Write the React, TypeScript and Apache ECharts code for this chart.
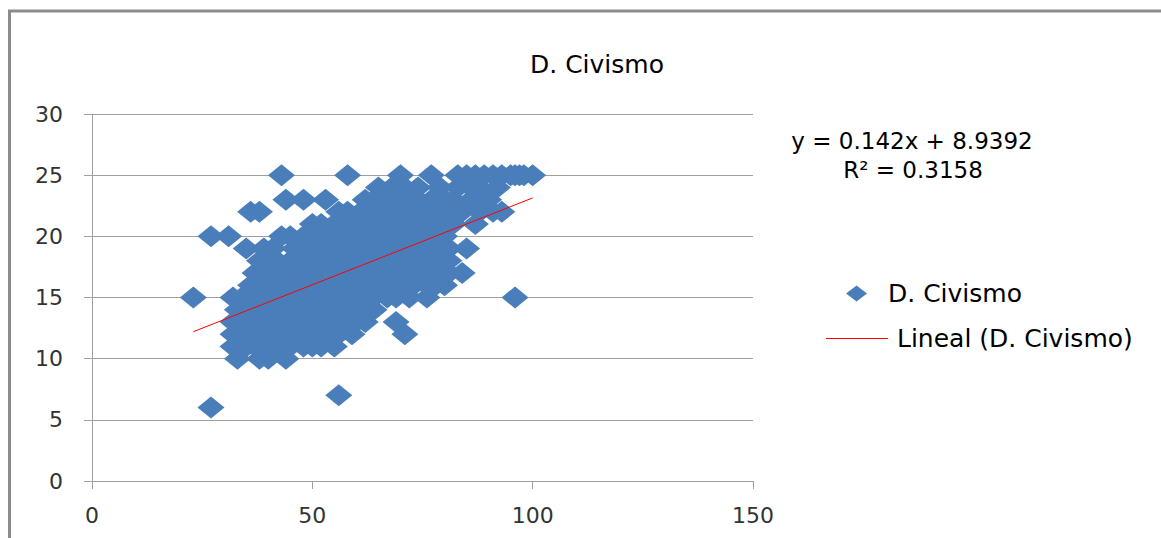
import React, { useEffect, useRef } from "react";
import * as echarts from "echarts";

const chartTitle = "D. Civismo";
const seriesName = "D. Civismo";
const trendName = "Lineal (D. Civismo)";
const trendSlope = 0.142;
const trendIntercept = 8.9392;
const equationText = "y = 0.142x + 8.9392";
const r2Text = "R² = 0.3158";

const xAxisMin = 0;
const xAxisMax = 150;
const xAxisStep = 50;
const yAxisMin = 0;
const yAxisMax = 30;
const yAxisStep = 5;

// Scores grouped by the D. Civismo value (y); each row lists the x values.
const rowY = [6, 7, 10, 11, 12, 13, 14, 15, 16, 17, 18, 19, 20, 21, 22, 23, 24, 25];
const rowX: number[][] = [
  [27],
  [56],
  [33, 38, 40, 44],
  [32, 35, 37, 40, 42, 45, 48, 50, 52, 55],
  [32, 34, 37, 39, 42, 44, 47, 49, 51, 54, 56, 59, 71],
  [32, 35, 37, 40, 42, 45, 47, 50, 52, 55, 57, 60, 62, 69],
  [33, 35, 38, 40, 43, 45, 48, 50, 53, 55, 58, 60, 62, 64],
  [23, 32, 34, 37, 39, 42, 44, 47, 49, 52, 54, 57, 59, 62, 64, 67, 69, 72, 76, 96],
  [36, 38, 41, 43, 46, 48, 51, 53, 56, 58, 61, 63, 66, 68, 71, 73, 76, 78, 80],
  [37, 39, 42, 44, 47, 49, 52, 54, 57, 59, 62, 64, 67, 69, 72, 74, 77, 79, 81, 84],
  [38, 40, 42, 45, 47, 50, 52, 55, 57, 60, 62, 65, 67, 70, 72, 75, 77, 79, 81],
  [35, 39, 41, 46, 48, 51, 53, 56, 58, 61, 63, 66, 68, 71, 73, 76, 78, 81, 85],
  [27, 31, 43, 45, 48, 50, 53, 55, 58, 60, 63, 65, 68, 70, 73, 75, 78, 80],
  [50, 52, 55, 57, 60, 62, 65, 67, 70, 72, 75, 77, 80, 82, 87],
  [36, 38, 56, 58, 61, 63, 66, 68, 71, 73, 76, 78, 81, 84, 88, 91, 93],
  [44, 48, 53, 62, 64, 67, 69, 72, 74, 77, 80, 82, 86, 90],
  [65, 68, 71, 74, 79, 83, 86, 88, 92],
  [43, 58, 70, 77, 83, 85, 87, 89, 91, 93, 95, 96, 97, 98, 100],
];

const FONT = '"DejaVu Sans", "Liberation Sans", sans-serif';

export default function App() {
  const ref = useRef<HTMLDivElement>(null);

  useEffect(() => {
    if (!ref.current) return;
    const chart = echarts.init(ref.current, null, { renderer: "svg" });

    const points: number[][] = [];
    rowY.forEach((y, i) => rowX[i].forEach((x) => points.push([x, y])));
    const xs = points.map((p) => p[0]);
    const xLo = Math.min(...xs);
    const xHi = Math.max(...xs);
    const trend = [
      [xLo, trendSlope * xLo + trendIntercept],
      [xHi, trendSlope * xHi + trendIntercept],
    ];

    chart.setOption({
      animation: false,
      backgroundColor: "#ffffff",
      title: {
        text: chartTitle,
        left: 525,
        top: 47,
        textStyle: { fontFamily: FONT, fontSize: 25, fontWeight: "normal", color: "#000000" },
      },
      grid: { left: 92, right: 408, top: 114, bottom: 57, containLabel: false },
      xAxis: {
        type: "value",
        min: xAxisMin,
        max: xAxisMax,
        interval: xAxisStep,
        axisLine: { show: true, lineStyle: { color: "#a0a0a0", width: 1 } },
        axisTick: { show: true, length: 8, lineStyle: { color: "#a0a0a0" } },
        splitLine: { show: false },
        axisLabel: { fontFamily: FONT, fontSize: 22, color: "#333333", margin: 23 },
      },
      yAxis: {
        type: "value",
        min: yAxisMin,
        max: yAxisMax,
        interval: yAxisStep,
        axisLine: { show: true, lineStyle: { color: "#a0a0a0", width: 1 } },
        axisTick: { show: true, length: 8, lineStyle: { color: "#a0a0a0" } },
        splitLine: { show: true, lineStyle: { color: "#a0a0a0", width: 1 } },
        axisLabel: { fontFamily: FONT, fontSize: 22, color: "#333333", margin: 29 },
      },
      legend: [
        {
          data: [{ name: seriesName, icon: "diamond" }],
          left: 846,
          top: 281,
          padding: 0,
          itemWidth: 21,
          itemHeight: 16,
          itemStyle: { color: "#4a7ebb", opacity: 1 },
          textStyle: { fontFamily: FONT, fontSize: 25, color: "#000000", padding: [0, 0, 0, 16] },
          selectedMode: false,
        },
        {
          data: [{ name: trendName, icon: "rect" }],
          left: 826,
          top: 326,
          padding: 0,
          itemWidth: 62,
          itemHeight: 1,
          itemStyle: { color: "#ff0000" },
          textStyle: { fontFamily: FONT, fontSize: 25, color: "#000000", padding: [0, 0, 0, 4] },
          selectedMode: false,
        },
      ],
      graphic: [
        {
          type: "rect",
          silent: true,
          shape: { x: 9.5, y: 11, width: 1400, height: 800 },
          style: { fill: "none", stroke: "#8c8c8c", lineWidth: 3 },
        },
        {
          type: "text",
          x: 912,
          y: 141,
          style: {
            text: equationText,
            font: `23px ${FONT}`,
            fill: "#000000",
            align: "center",
            verticalAlign: "middle",
          },
        },
        {
          type: "text",
          x: 913,
          y: 170,
          style: {
            text: r2Text,
            font: `23px ${FONT}`,
            fill: "#000000",
            align: "center",
            verticalAlign: "middle",
          },
        },
      ],
      series: [
        {
          name: seriesName,
          type: "scatter",
          symbol: "diamond",
          symbolSize: [27, 22],
          itemStyle: { color: "#4a7ebb", opacity: 1 },
          data: points,
          z: 2,
        },
        {
          name: trendName,
          type: "line",
          symbol: "none",
          showSymbol: false,
          lineStyle: { color: "#ff0000", width: 1 },
          data: trend,
          z: 3,
        },
      ],
    });

    return () => chart.dispose();
  }, []);

  return (
    <div
      ref={ref}
      style={{ position: "absolute", left: 0, top: 0, width: 1161, height: 538 }}
    />
  );
}
